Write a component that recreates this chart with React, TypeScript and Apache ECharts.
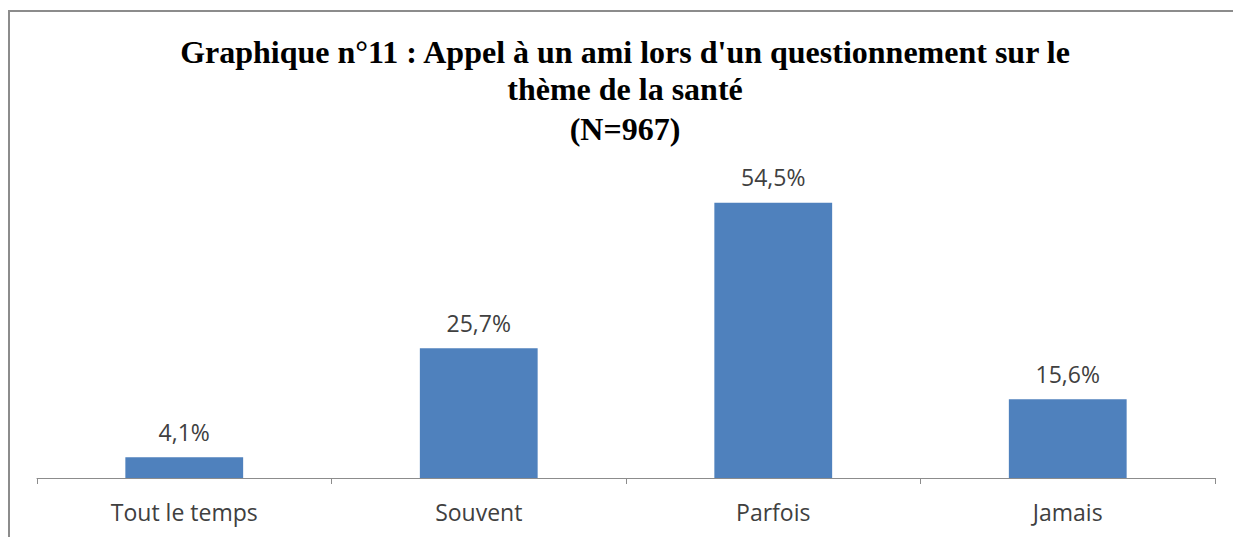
import React, { useEffect, useRef } from "react";
import * as echarts from "echarts";

const categories = ["Tout le temps", "Souvent", "Parfois", "Jamais"];
const values = [4.1, 25.7, 54.5, 15.6];
const titleLines = [
  "Graphique n°11 : Appel à un ami lors d'un questionnement sur le",
  "thème de la santé",
  "(N=967)",
];

export default function App() {
  const ref = useRef<HTMLDivElement>(null);
  useEffect(() => {
    if (!ref.current) return;
    const chart = echarts.init(ref.current, null, { renderer: "svg" });
    chart.setOption({
      animation: false,
      backgroundColor: "#ffffff",
      graphic: [
        {
          type: "rect",
          shape: { x: 9, y: 11, width: 1240, height: 540 },
          style: { fill: "none", stroke: "#8c8c8c", lineWidth: 2 },
          silent: true,
        },
        ...titleLines.map((t, i) => ({
          type: "text",
          x: 625,
          y: [52, 89, 129][i],
          style: {
            text: t,
            font: "bold 32px 'Liberation Serif', 'Times New Roman', serif",
            fill: "#000000",
            textAlign: "center",
            textVerticalAlign: "middle",
          },
        })),
      ],
      grid: { left: 37, right: 18, top: 175, bottom: 59 },
      xAxis: {
        type: "category",
        data: categories,
        axisLine: { lineStyle: { color: "#8c8c8c", width: 1 } },
        axisTick: { show: true, length: 6, lineStyle: { color: "#8c8c8c" } },
        axisLabel: {
          color: "#404040",
          fontSize: 23,
          fontFamily: "'Open Sans', sans-serif",
          margin: 22,
        },
      },
      yAxis: {
        type: "value",
        min: 0,
        max: 60,
        show: false,
        splitLine: { show: false },
      },
      series: [
        {
          type: "bar",
          data: values,
          barWidth: "40%",
          itemStyle: { color: "#4f81bd" },
          label: {
            show: true,
            position: "top",
            distance: 14,
            color: "#404040",
            fontSize: 23,
            fontFamily: "'Open Sans', sans-serif",
            formatter: (p: any) => p.value.toFixed(1).replace(".", ",") + "%",
          },
        },
      ],
    });
    return () => chart.dispose();
  }, []);
  return (
    <div
      ref={ref}
      style={{ position: "fixed", left: 0, top: 0, width: 1233, height: 537 }}
    />
  );
}
